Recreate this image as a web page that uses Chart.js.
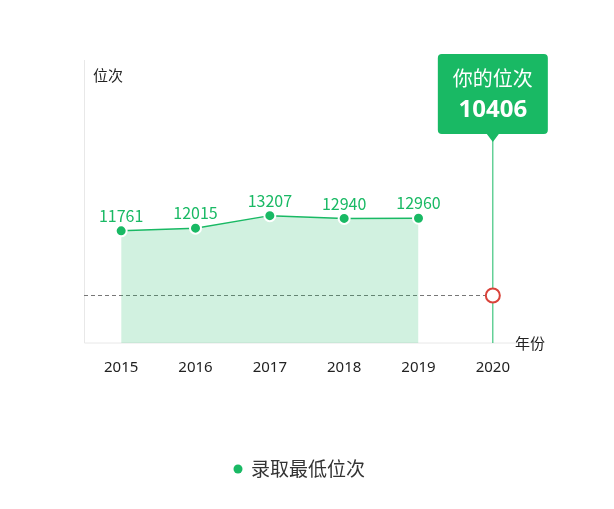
<!DOCTYPE html>
<html lang="zh">
<head>
<meta charset="UTF-8">
<script src="https://cdn.jsdelivr.net/npm/chart.js"></script>
<style>
  body { margin: 0; background: #fff; }
  #wrap { width: 614px; height: 509px; }
</style>
</head>
<body>
<div id="wrap"><canvas id="rankChart"></canvas></div>
<script>
const years = ['2015', '2016', '2017', '2018', '2019', '2020'];
const minRanks = [11761, 12015, 13207, 12940, 12960, null];
const myRank = [null, null, null, null, null, 10406];
const seriesName = '录取最低位次';
const green = '#19b964';

// labels, axis lines, callout, legend
const decorate = {
  id: 'decorate',
  beforeDatasetsDraw(chart) {
    const { ctx, chartArea: a } = chart;
    ctx.save();
    ctx.strokeStyle = '#e8e8e8';
    ctx.lineWidth = 1;
    ctx.beginPath();
    ctx.moveTo(a.left + 0.5, a.top); ctx.lineTo(a.left + 0.5, a.bottom);
    ctx.lineTo(a.right, a.bottom);
    ctx.stroke();
    // dashed line to my rank
    const p = chart.getDatasetMeta(1).data[5];
    ctx.strokeStyle = '#777';
    ctx.setLineDash([4, 3]);
    ctx.beginPath();
    ctx.moveTo(a.left, p.y); ctx.lineTo(p.x, p.y);
    ctx.stroke();
    ctx.setLineDash([]);
    // vertical line
    ctx.strokeStyle = green;
    ctx.beginPath();
    ctx.moveTo(p.x, 135); ctx.lineTo(p.x, a.bottom);
    ctx.stroke();
    ctx.restore();
  },
  afterDatasetsDraw(chart) {
    const { ctx, chartArea: a } = chart;
    ctx.save();
    ctx.font = '16px "Noto Sans CJK SC", "Noto Sans"';
    ctx.fillStyle = green;
    ctx.textAlign = 'center';
    ctx.textBaseline = 'bottom';
    chart.getDatasetMeta(0).data.forEach((pt, i) => {
      if (minRanks[i] != null) ctx.fillText(String(minRanks[i]), pt.x, pt.y - 7);
    });
    // callout
    const p = chart.getDatasetMeta(1).data[5];
    const bx = p.x - 55, by = 54, bw = 110, bh = 80;
    ctx.beginPath();
    ctx.roundRect(bx, by, bw, bh, 4);
    ctx.moveTo(p.x - 6, by + bh); ctx.lineTo(p.x, by + bh + 8); ctx.lineTo(p.x + 6, by + bh);
    ctx.fill();
    ctx.fillStyle = '#fff';
    ctx.textBaseline = 'middle';
    ctx.font = '20px "Noto Sans CJK SC"';
    ctx.fillText('你的位次', p.x, 78);
    ctx.font = 'bold 24px "Noto Sans", "Noto Sans CJK SC"';
    ctx.fillText(String(myRank[5]), p.x, 110);
    // axis titles
    ctx.fillStyle = '#222';
    ctx.font = '15px "Noto Sans CJK SC"';
    ctx.textAlign = 'left';
    ctx.fillText('位次', 93, 75);
    ctx.fillText('年份', 515, 343);
    // legend
    ctx.fillStyle = green;
    ctx.beginPath(); ctx.arc(238, 469, 4.5, 0, Math.PI * 2); ctx.fill();
    ctx.fillStyle = '#333';
    ctx.font = '19px "Noto Sans CJK SC"';
    ctx.fillText(seriesName, 251, 469);
    ctx.restore();
  }
};

new Chart(document.getElementById('rankChart'), {
  type: 'line',
  data: {
    labels: years,
    datasets: [{
      label: seriesName,
      data: minRanks,
      yAxisID: 'y',
      borderColor: green,
      borderWidth: 1.5,
      backgroundColor: 'rgba(25, 185, 100, 0.2)',
      fill: 'origin',
      pointRadius: 5.5,
      pointBackgroundColor: green,
      pointBorderColor: '#fff',
      pointBorderWidth: 2,
      tension: 0
    }, {
      label: '你的位次',
      data: myRank,
      yAxisID: 'y2',
      pointRadius: 7,
      pointBackgroundColor: '#fff',
      pointBorderColor: '#d9433a',
      pointBorderWidth: 2,
      showLine: false
    }]
  },
  options: {
    responsive: true,
    maintainAspectRatio: false,
    animation: false,
    layout: { padding: { left: 84, right: 84, top: 60, bottom: 124 } },
    plugins: { legend: { display: false }, tooltip: { enabled: false } },
    scales: {
      x: {
        offset: true,
        grid: { display: false },
        border: { display: false },
        ticks: { color: '#222', font: { size: 15, family: 'Noto Sans' }, padding: 8 }
      },
      y: { display: false, min: 1100, max: 28000 },
      y2: { display: false, min: 0, max: 62000 }
    }
  },
  plugins: [decorate]
});
</script>
</body>
</html>
